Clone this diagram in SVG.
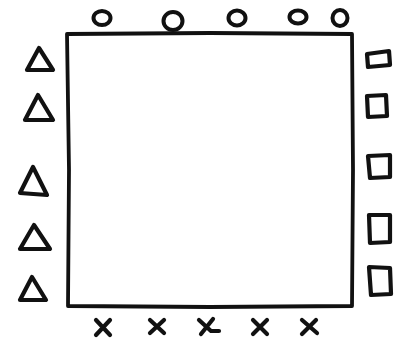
<svg xmlns="http://www.w3.org/2000/svg" width="396" height="347" viewBox="0 0 396 347">
<style>
.s{fill:none;stroke:#111;stroke-width:4.2;stroke-linejoin:round;stroke-linecap:round}
.f{fill:none;stroke:#111;stroke-width:3.8;stroke-linejoin:round;stroke-linecap:round}
.b{fill:none;stroke:#111;stroke-width:4;stroke-linejoin:round;stroke-linecap:round}
</style>
<rect width="396" height="347" fill="#fff"/>
<g id="frame">
<path class="f" d="M67 34 L210 33 L352 34 L353 170 L352 306 L210 307 L68 306 L69 170 Z"/>
</g>
<g id="circles">
<ellipse class="b" cx="102" cy="18" rx="8.5" ry="7"/>
<ellipse class="b" cx="173" cy="21" rx="9.5" ry="9"/>
<ellipse class="b" cx="237" cy="18" rx="8.5" ry="7.5"/>
<ellipse class="b" cx="298" cy="17" rx="8.5" ry="6.5"/>
<ellipse class="b" cx="340" cy="18" rx="7.5" ry="8"/>
</g>
<g id="triangles">
<path class="s" d="M39 48 L53 70 L27 70 Z"/>
<path class="s" d="M38 95 L53 120 L25 120 Z"/>
<path class="s" d="M33 167 L47 195 L20 193 Z"/>
<path class="s" d="M34 225 L50 249 L20 249 Z"/>
<path class="s" d="M32 277 L46 300 L20 300 Z"/>
</g>
<g id="squares">
<path class="s" d="M367 54 L389 51 L390 65 L368 67 Z"/>
<path class="s" d="M367 96 L386 95 L387 116 L368 117 Z"/>
<path class="s" d="M368 156 L390 155 L390 177 L370 178 Z"/>
<path class="s" d="M369 215 L390 215 L390 242 L370 243 Z"/>
<path class="s" d="M369 267 L390 268 L391 294 L371 295 Z"/>
</g>
<g id="crosses">
<path class="s" d="M96 320 L110 335 M110 320 L96 335"/>
<path class="s" d="M150 320 L164 333 M164 320 L150 333"/>
<path class="s" d="M199 320 L211 331 L219 331 M213 319 L201 334"/>
<path class="s" d="M253 320 L267 334 M267 320 L253 334"/>
<path class="s" d="M302 320 L317 333 M316 320 L302 334"/>
</g>
</svg>
